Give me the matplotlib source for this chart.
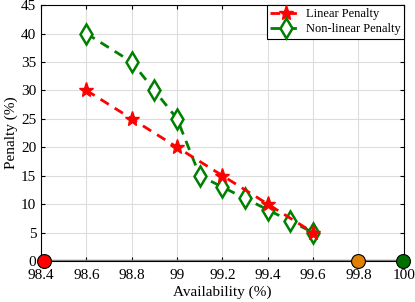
import matplotlib.pyplot as plt
import numpy as np

plt.rcParams['font.family'] = ['Liberation Serif', 'DejaVu Serif']
plt.rcParams['mathtext.fontset'] = 'stix'

lin_x = [98.6, 98.8, 99.0, 99.2, 99.4, 99.6]
lin_y = [30, 25, 20, 15, 10, 5]
nl_x = [98.6, 98.8, 98.9, 99.0, 99.1, 99.2, 99.3, 99.4, 99.5, 99.6]
nl_y = [40, 35, 30, 25, 15, 13, 11, 9, 7, 5]
dot_x = [98.413, 99.8, 99.995]
dot_y = [0, 0, 0]
dot_c = ['#ff0000', '#e08000', '#007000']
xticks = [98.4, 98.6, 98.8, 99, 99.2, 99.4, 99.6, 99.8, 100]
xlabels = ['98.4', '98.6', '98.8', '99', '99.2', '99.4', '99.6', '99.8', '100']

fig = plt.figure(figsize=(4.15, 3.02), dpi=100)
ax = fig.add_axes([0.099, 0.136, 0.874, 0.847])

ax.axhline(0, color='#808080', lw=2.5, zorder=2)
ax.plot(lin_x, lin_y, color='red', lw=2, ls=(0, (3.5, 2.5)), marker='*', ms=11,
        label='Linear Penalty', zorder=4)
ax.plot(nl_x, nl_y, color='green', lw=2, ls=(0, (3.5, 2.5)), marker='d', ms=10.5,
        mfc='white', mew=1.8, label='Non-linear Penalty', zorder=3)
for x, y, c in zip(dot_x, dot_y, dot_c):
    ax.plot(x, y, 'o', ms=10, color=c, mec='black', mew=0.8,
            clip_on=False, zorder=5)

ax.set_xlim(98.4, 100)
ax.set_ylim(0, 45)
ax.set_xticks(xticks)
ax.set_xticklabels(xlabels)
ax.set_yticks(np.arange(0, 46, 5))
ax.grid(True, color='#dddddd', lw=0.8)
ax.set_axisbelow(True)
ax.tick_params(direction='in', top=True, right=True, labelsize=11, length=3)
ax.tick_params(axis='x', pad=6)
ax.set_xlabel('Availability (%)', fontsize=11, labelpad=2)
ax.set_ylabel('Penalty (%)', fontsize=11, labelpad=2)
for s in ax.spines.values():
    s.set_linewidth(0.8)

leg = ax.legend(loc='upper right', fontsize=9, fancybox=False,
                edgecolor='black', framealpha=1, borderaxespad=0,
                handlelength=2.6, borderpad=0.25, labelspacing=0.25,
                handletextpad=0.3)
leg.get_frame().set_linewidth(0.8)

fig.savefig('out.png', dpi=100)
